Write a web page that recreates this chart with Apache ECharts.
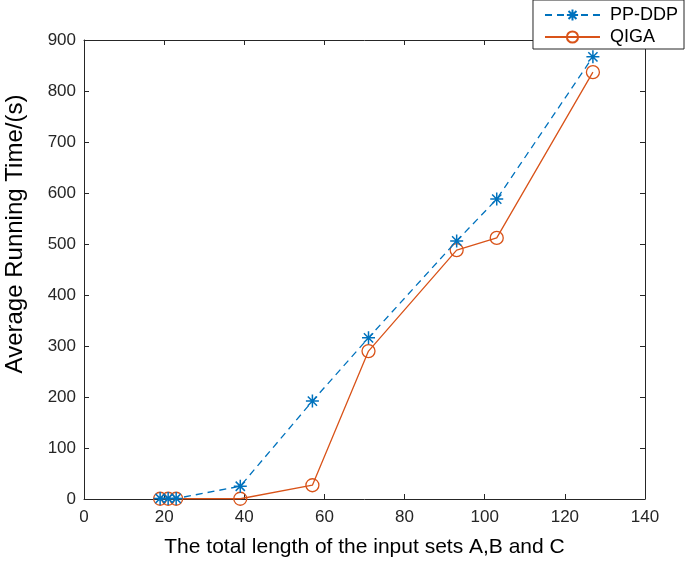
<!DOCTYPE html>
<html>
<head>
<meta charset="utf-8">
<script src="https://cdn.jsdelivr.net/npm/echarts@6/dist/echarts.min.js"></script>
<style>html,body{margin:0;padding:0;background:#fff}#c{width:685px;height:562px}</style>
</head>
<body>
<div id="c"></div>
<script>
var lengths = [19, 21, 23, 39, 57, 71, 93, 103, 127];
var ppddp = [1, 1, 1, 25, 192, 316, 506, 588, 867];
var qiga = [0.5, 0.5, 0.5, 0.5, 27, 290, 488, 512, 837];
var seriesNames = ['PP-DDP', 'QIGA'];
var xTitle = 'The total length of the input sets A,B and C';
var yTitle = 'Average Running Time/(s)';

var font = 'Liberation Sans, Arial, sans-serif';
var axisColor = '#262626';
var star = 'path://M0,-10L0,10M-10,0L10,0M-7.07,-7.07L7.07,7.07M-7.07,7.07L7.07,-7.07';

function pairs(xs, ys) { return xs.map(function (x, i) { return [x, ys[i]]; }); }

var baseX = {
  type: 'value', min: 0, max: 140, interval: 20,
  axisLine: { show: true, onZero: false, lineStyle: { color: axisColor, width: 1 } },
  axisTick: { show: true, inside: true, length: 5, lineStyle: { color: axisColor } },
  splitLine: { show: false }
};
var baseY = {
  type: 'value', min: 0, max: 900, interval: 100,
  axisLine: { show: true, onZero: false, lineStyle: { color: axisColor, width: 1 } },
  axisTick: { show: true, inside: true, length: 5, lineStyle: { color: axisColor } },
  splitLine: { show: false }
};

var chart = echarts.init(document.getElementById('c'), null, { renderer: 'canvas' });
chart.setOption({
  animation: false,
  backgroundColor: '#fff',
  grid: { left: 84, right: 40, top: 40, bottom: 63, containLabel: false, outerBoundsMode: 'none' },
  legend: {
    orient: 'vertical', right: 1, top: 0,
    data: seriesNames,
    itemWidth: 55, itemHeight: 14, itemGap: 4,
    padding: [6, 6, 3, 11],
    borderColor: axisColor, borderWidth: 1,
    backgroundColor: '#fff',
    textStyle: { fontFamily: font, fontSize: 18, color: '#000', padding: [0, 0, 0, 5] }
  },
  graphic: [{
    type: 'text', x: 15, y: 234, rotation: Math.PI / 2,
    style: { text: yTitle, fontFamily: font, fontSize: 24, fill: '#000', align: 'center', verticalAlign: 'middle' }
  }],
  xAxis: [
    Object.assign({}, baseX, {
      position: 'bottom',
      name: xTitle, nameLocation: 'middle', nameGap: 38,
      nameTextStyle: { fontFamily: font, fontSize: 21, color: '#000' },
      axisLabel: { fontFamily: font, fontSize: 17, color: '#262626', margin: 10 }
    }),
    Object.assign({}, baseX, { position: 'top', axisLabel: { show: false } })
  ],
  yAxis: [
    Object.assign({}, baseY, {
      position: 'left',
      axisLabel: { fontFamily: font, fontSize: 17, color: '#262626', margin: 8 }
    }),
    Object.assign({}, baseY, { position: 'right', axisLabel: { show: false } })
  ],
  series: [
    {
      name: seriesNames[0], type: 'line', xAxisIndex: 0, yAxisIndex: 0,
      data: pairs(lengths, ppddp),
      symbol: star, symbolSize: 13,
      showAllSymbol: true,
      lineStyle: { color: '#0072BD', width: 1.3, type: [7, 5] },
      itemStyle: { color: 'rgba(0,0,0,0)', borderColor: '#0072BD', borderWidth: 1.5 },
      z: 3
    },
    {
      name: seriesNames[1], type: 'line', xAxisIndex: 0, yAxisIndex: 0,
      data: pairs(lengths, qiga),
      symbol: 'circle', symbolSize: 13,
      showAllSymbol: true,
      lineStyle: { color: '#D95319', width: 1.3 },
      itemStyle: { color: 'rgba(0,0,0,0)', borderColor: '#D95319', borderWidth: 1.3 },
      z: 2
    }
  ]
});
</script>
</body>
</html>
